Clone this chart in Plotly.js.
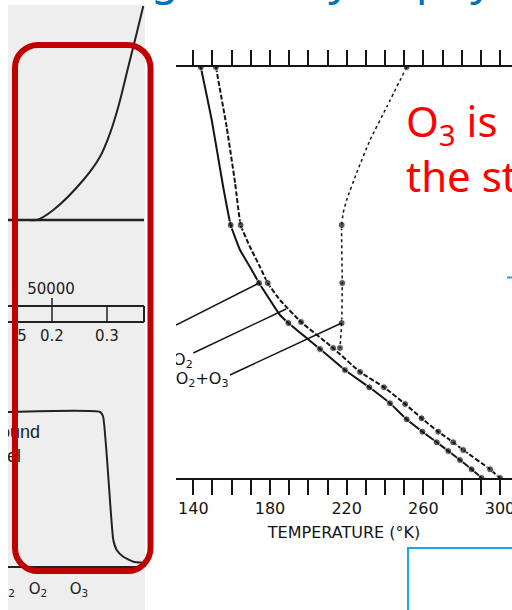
<!DOCTYPE html>
<html>
<head>
<meta charset="utf-8">
<script src="https://cdn.plot.ly/plotly-3.0.1.min.js"></script>
<style>html,body{margin:0;padding:0;background:#fff;}#chart{width:512px;height:610px;}</style>
</head>
<body>
<div id="chart"></div>
<script>
// ---------------- DATA ----------------
// Main chart: temperature (K) vs. height level (arbitrary units, 0 = bottom axis)
const tempTicks = [140,150,160,170,180,190,200,210,220,230,240,250,260,270,280,290,300];
const tempLabels = ["140","","","","180","","","","220","","","","260","","","","300"];

const solidT = [143.9,149.6,155.6,159.5,164.4,169.6,174.3,180.0,185.2,189.6,206.1,219.1,231.8,242.6,251.3,259.5,267.0,273.0,279.1,285.2,290.4];
const solidZ = [41.1,35.8,29.1,25.3,22.8,21.1,19.5,17.8,16.3,15.5,12.9,10.8,9.07,7.47,5.87,4.63,3.57,2.7,1.8,0.87,0];

const dashedT = [151.8,157.4,161.8,164.7,169.6,174.8,178.8,185.2,196.2,212.9,227.0,239.5,250.5,259.1,267.8,275.6,280.8,294.8,300.0];
const dashedZ = [41.1,35.1,29.5,25.3,23.1,21.1,19.5,17.8,15.6,13.0,10.6,9.07,7.4,5.97,4.63,3.57,2.8,0.87,0];

const dottedT = [251.3,240.9,232.2,225.2,220.0,218.2,217.4,217.7,217.4,216.5];
const dottedZ = [41.1,37.1,33.8,30.5,27.8,26.5,25.3,19.5,15.5,13.0];

const curveLabels = ["O<sub>2</sub>","O<sub>2</sub>+O<sub>3</sub>"];

// Left (cropped) panel, in its own units
const riseU = [22,28.7,45.3,75.3,92,102,110.3,120.3,128.7,135.3];
const riseV = [390,390,400,430,453.3,476.7,503.3,543.3,576.7,604];
const stepU = [0,92,95,105.3,108.7,115.3,125.3,136];
const stepV = [198,198,194,70,60,53.3,48.3,47.3];
const stripLabels = ["50000","5","0.2","0.3"];
const gasLabels = ["N<sub>2</sub>","O<sub>2</sub>","O<sub>3</sub>"];
const sideLabels = ["Ground","level"];

// ---------------- STYLE / LAYOUT ----------------
const W = 512, H = 610;
const px = x => x / W;
const py = y => 1 - y / H;
const ink = '#141414';
const dotSolid = [0,3,6,9,10,11,12,13,14,15,16,17,18,19,20];
const dotDashed = [0,3,6,8,9,10,11,12,13,14,15,16,17,18];
const dotDotted = [0,6,7,8,9];
const sizes = (n, idx) => Array.from({length:n}, (_, i) => idx.includes(i) ? 7 : 0);

const traces = [
  {x: solidT, y: solidZ, xaxis:'x', yaxis:'y', mode:'lines+markers', line:{color:ink, width:2, shape:'spline', smoothing:0.4},
   marker:{color:ink, size:sizes(solidT.length, dotSolid)}, hoverinfo:'skip'},
  {x: dashedT, y: dashedZ, xaxis:'x', yaxis:'y', mode:'lines+markers', line:{color:ink, width:2, dash:'5px,2px', shape:'spline', smoothing:0.4},
   marker:{color:ink, size:sizes(dashedT.length, dotDashed)}, hoverinfo:'skip'},
  {x: dottedT, y: dottedZ, xaxis:'x', yaxis:'y', mode:'lines+markers', line:{color:ink, width:1.5, dash:'dot', shape:'spline', smoothing:0.5},
   marker:{color:ink, size:sizes(dottedT.length, dotDotted)}, hoverinfo:'skip'},
  {x:[134.6, 144.6], y:[11.7, 9.8], xaxis:'x', yaxis:'y', mode:'text', text:curveLabels, textposition:'middle center',
   textfont:{family:'DejaVu Sans', size:16, color:ink}, cliponaxis:true, hoverinfo:'skip'},
  // left panel
  {x: riseU, y: riseV, xaxis:'x2', yaxis:'y2', mode:'lines', line:{color:'#222', width:2, shape:'spline'}, hoverinfo:'skip'},
  {x: stepU, y: stepV, xaxis:'x2', yaxis:'y2', mode:'lines', line:{color:'#222', width:2, shape:'spline', smoothing:0.5}, hoverinfo:'skip'},
  {x:[43,14,44,99], y:[320,273,273,273], xaxis:'x2', yaxis:'y2', mode:'text', text:stripLabels,
   textfont:{family:'DejaVu Sans', size:15, color:'#222'}, cliponaxis:true, hoverinfo:'skip'},
  {x:[-2,30,71], y:[20,20,20], xaxis:'x2', yaxis:'y2', mode:'text', text:gasLabels,
   textfont:{family:'DejaVu Sans', size:15, color:'#222'}, cliponaxis:true, hoverinfo:'skip'},
  {x:[32,13], y:[177,153], xaxis:'x2', yaxis:'y2', mode:'text', text:sideLabels, textposition:'middle left',
   textfont:{family:'Liberation Sans', size:18, color:'#222'}, cliponaxis:true, hoverinfo:'skip'}
];

// rounded red frame (pixel coords -> paper)
function roundRect(x0,y0,x1,y1,r){
  const k = 0.5523*r;
  const P = (x,y) => px(x).toFixed(5)+','+py(y).toFixed(5);
  return 'M'+P(x0+r,y0)+' L'+P(x1-r,y0)+' C'+P(x1-r+k,y0)+' '+P(x1,y0+r-k)+' '+P(x1,y0+r)+
    ' L'+P(x1,y1-r)+' C'+P(x1,y1-r+k)+' '+P(x1-r+k,y1)+' '+P(x1-r,y1)+
    ' L'+P(x0+r,y1)+' C'+P(x0+r-k,y1)+' '+P(x0,y1-r+k)+' '+P(x0,y1-r)+
    ' L'+P(x0,y0+r)+' C'+P(x0,y0+r-k)+' '+P(x0+r-k,y0)+' '+P(x0+r,y0)+' Z';
}

const shapes = [
  // gray scanned panel
  {type:'rect', xref:'paper', yref:'paper', x0:px(8), x1:px(145), y0:py(612), y1:py(5), fillcolor:'#eeeeee', line:{width:0}, layer:'below'},
  // left panel lines
  {type:'line', xref:'x2', yref:'y2', x0:0, x1:136, y0:390, y1:390, line:{color:'#222', width:2.5}},
  {type:'line', xref:'x2', yref:'y2', x0:0, x1:136, y0:304, y1:304, line:{color:'#222', width:2}},
  {type:'line', xref:'x2', yref:'y2', x0:0, x1:136, y0:288, y1:288, line:{color:'#222', width:2}},
  {type:'line', xref:'x2', yref:'y2', x0:136, x1:136, y0:288, y1:304, line:{color:'#222', width:2}},
  {type:'line', xref:'x2', yref:'y2', x0:44, x1:44, y0:288, y1:312, line:{color:'#222', width:1.5}},
  {type:'line', xref:'x2', yref:'y2', x0:99, x1:99, y0:288, y1:304, line:{color:'#222', width:1.5}},
  {type:'line', xref:'x2', yref:'y2', x0:0, x1:136, y0:43, y1:43, line:{color:'#222', width:2}},
  {type:'line', xref:'x2', yref:'y2', x0:30, x1:30, y0:43, y1:38, line:{color:'#222', width:1.5}},
  {type:'line', xref:'x2', yref:'y2', x0:71, x1:71, y0:43, y1:38, line:{color:'#222', width:1.5}},
  // white slide margin left of the scanned panel (covers the cut text)
  {type:'rect', xref:'paper', yref:'paper', x0:px(-5), x1:px(8), y0:py(615), y1:py(-5), fillcolor:'#ffffff', line:{width:0}, layer:'above'},
  // leader lines in main chart
  {type:'line', xref:'x', yref:'y', x0:131.0, y0:15.3, x1:solidT[6], y1:solidZ[6], line:{color:ink, width:1.5}},
  {type:'line', xref:'x', yref:'y', x0:140.0, y0:12.5, x1:188.4, y1:16.9, line:{color:ink, width:1.5}},
  {type:'line', xref:'x', yref:'y', x0:159.1, y0:10.3, x1:dottedT[8], y1:dottedZ[8], line:{color:ink, width:1.5}},
  // red rounded frame
  {type:'path', xref:'paper', yref:'paper', path:roundRect(15,45,150.5,571,23), line:{color:'#C00000', width:6}, fillcolor:'rgba(0,0,0,0)'},
  // blue slide elements
  {type:'rect', xref:'paper', yref:'paper', x0:px(408), x1:px(530), y0:py(630), y1:py(548), line:{color:'#1AA7E8', width:2}, fillcolor:'rgba(0,0,0,0)'},
  {type:'line', xref:'paper', yref:'paper', x0:px(507), x1:px(530), y0:py(277.5), y1:py(277.5), line:{color:'#1AA7E8', width:2}}
];

const annotations = [
  {xref:'paper', yref:'paper', x:px(404), y:py(90), xanchor:'left', yanchor:'top', align:'left', showarrow:false,
   text:'O<sub>3</sub> is<br>the stratosphere\u2019s heat source', font:{family:'Noto Sans', size:42, color:'#FF0000'}},
  {xref:'paper', yref:'paper', x:px(-127), y:py(9), xanchor:'left', yanchor:'bottom', align:'left', showarrow:false,
   text:'Ozone heating, the key to physics of the stratosphere', font:{family:'Noto Sans', size:44, color:'#0070C0'}}
];

const layout = {
  width:W, height:H, margin:{l:0,r:0,t:0,b:0},
  paper_bgcolor:'#ffffff', plot_bgcolor:'rgba(0,0,0,0)', showlegend:false,
  xaxis:{domain:[px(176),1], range:[130.97,306.25], anchor:'y', showline:true, linecolor:ink, linewidth:2,
    mirror:'ticks', ticks:'outside', ticklen:15, tickwidth:2, tickcolor:ink, ticklabeloverflow:'allow',
    tickmode:'array', tickvals:tempTicks, ticktext:tempLabels,
    tickfont:{family:'DejaVu Sans', size:16, color:ink}, showgrid:false, zeroline:false,
    title:{text:'TEMPERATURE (°K)', font:{family:'DejaVu Sans', size:16, color:ink}, standoff:10}},
  yaxis:{domain:[py(478), py(67)], range:[0,41.1], anchor:'x', visible:false},
  xaxis2:{domain:[px(8), px(145)], range:[0,137], anchor:'y2', visible:false},
  yaxis2:{domain:[0, py(5)], range:[0,605], anchor:'x2', visible:false},
  shapes:shapes, annotations:annotations
};

Plotly.newPlot('chart', traces, layout, {staticPlot:true, displayModeBar:false});
</script>
</body>
</html>
